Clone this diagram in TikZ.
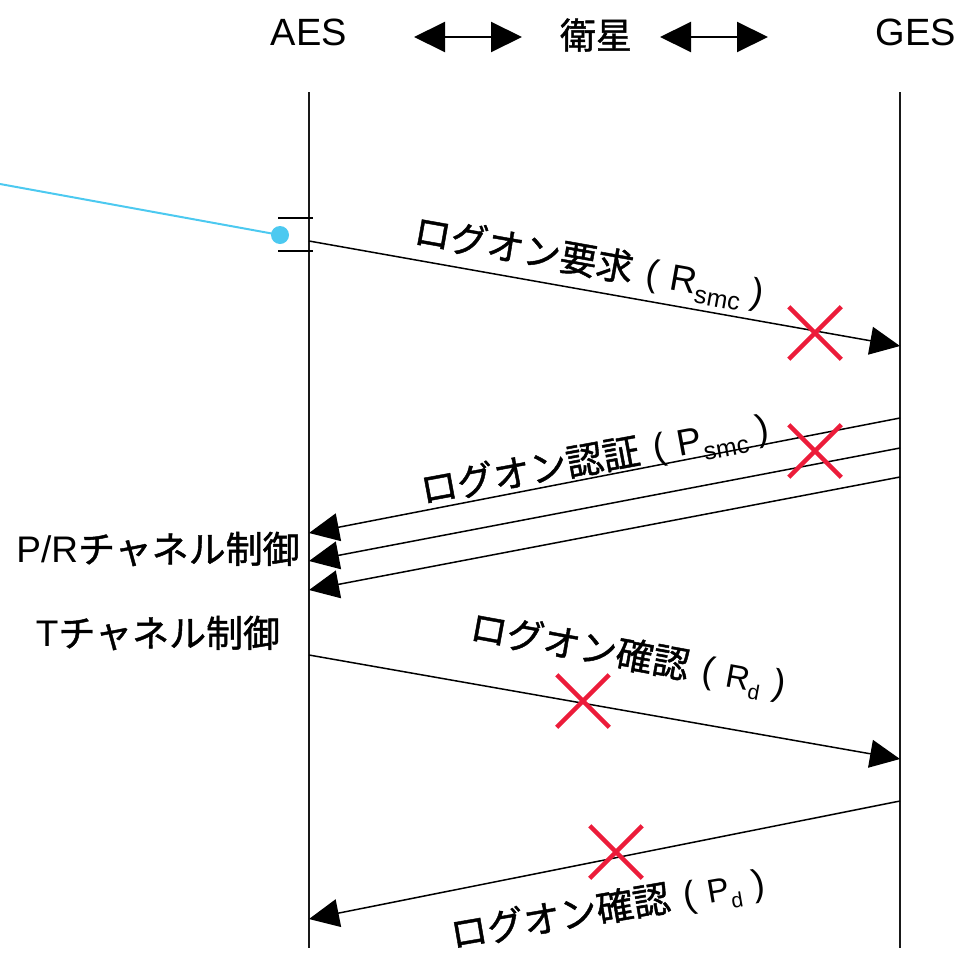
\documentclass[tikz,border=0pt]{standalone}
\usepackage{fontspec}
\setmainfont{Liberation Sans}
\newfontfamily\jpfont[FakeBold=1.2]{Noto Sans CJK JP}
\usetikzlibrary{arrows.meta,shapes.misc}
\definecolor{xred}{HTML}{EC1C3A}
\definecolor{cyanline}{HTML}{4CC9F0}
\newcommand\J[1]{{\jpfont #1}}
\newcommand\Sub[2]{\raisebox{-0.25em}{\fontsize{#1}{#1}\selectfont #2}}
\begin{document}
\begin{tikzpicture}[x=1pt,y=-1pt]
\tikzset{
  lifeline/.style={line width=2.4pt, black!90},
  msg/.style={line width=1.5pt, -{Triangle[length=30pt,width=28pt]}},
  hdrarrow/.style={line width=2pt, {Triangle[length=31pt,width=30pt]}-{Triangle[length=31pt,width=30pt]}},
  hdrtxt/.style={font=\fontsize{38}{42}\selectfont, inner sep=0pt},
  lbl/.style={font=\fontsize{37}{40}\selectfont, inner sep=0pt},
  sidetxt/.style={font=\fontsize{37}{40}\selectfont, inner sep=0pt},
  lost/.style={draw=xred, cross out, line width=4.5pt, minimum size=48pt, inner sep=0pt},
  tick/.style={line width=2pt},
}
\useasboundingbox (0,0) rectangle (960,953);

% header
\node[hdrtxt] (aes) at (309,32) {AES};
\node[hdrtxt, font=\fontsize{36}{40}\selectfont] (sat) at (596,35) {\J{衛星}};
\node[hdrtxt] (ges) at (916,32) {GES};
\coordinate (h1a) at (414,37); \coordinate (h1b) at (522,37);
\coordinate (h2a) at (660,37); \coordinate (h2b) at (768,37);
\draw[hdrarrow] (h1a) -- (h1b);
\draw[hdrarrow] (h2a) -- (h2b);

% lifelines
\coordinate (aTop) at (309,92); \coordinate (aBot) at (309,948);
\coordinate (gTop) at (900,92); \coordinate (gBot) at (900,948);
\draw[lifeline] (aTop) -- (aBot);
\draw[lifeline] (gTop) -- (gBot);

% blue pointer and brackets
\coordinate (bStart) at (0,184);
\node[circle, fill=cyanline, minimum size=18pt, inner sep=0pt] (dot) at (280,235) {};
\draw[cyanline, line width=2pt] (bStart) -- (dot.center);
\coordinate (t1a) at (278,218); \coordinate (t1b) at (313,218);
\coordinate (t2a) at (278,251); \coordinate (t2b) at (313,251);
\draw[tick] (t1a) -- (t1b);
\draw[tick] (t2a) -- (t2b);

% messages
\coordinate (m1s) at (309,241); \coordinate (m1e) at (900,346);
\coordinate (m2as) at (900,418); \coordinate (m2ae) at (309,533);
\coordinate (m2bs) at (900,448); \coordinate (m2be) at (309,561);
\coordinate (m2cs) at (900,477); \coordinate (m2ce) at (309,590);
\coordinate (m3s) at (309,655); \coordinate (m3e) at (900,759);
\coordinate (m4s) at (900,801); \coordinate (m4e) at (309,919);
\draw[msg] (m1s) -- (m1e);
\draw[msg] (m2as) -- (m2ae);
\draw[msg] (m2bs) -- (m2be);
\draw[msg] (m2cs) -- (m2ce);
\draw[msg] (m3s) -- (m3e);
\draw[msg] (m4s) -- (m4e);

% labels
\node[lbl, rotate=-10.1] (l1) at (589,264) {\J{ログオン要求}\hspace{14pt}(\hspace{12pt}R\Sub{25}{smc}\hspace{10pt})};
\node[lbl, rotate=10.5] (l2) at (595,461) {\J{ログオン認証}\hspace{14pt}(\hspace{12pt}P\Sub{25}{smc}\hspace{10pt})};
\node[lbl, rotate=-10.3] (l3) at (628,657) {\J{ログオン確認}\hspace{14pt}(\hspace{12pt}{\fontsize{33}{36}\selectfont R\Sub{21}{d}}\hspace{12pt})};
\node[lbl, rotate=9.8] (l4) at (608,910) {\J{ログオン確認}\hspace{14pt}(\hspace{12pt}{\fontsize{33}{36}\selectfont P\Sub{21}{d}}\hspace{12pt})};

% side labels
\node[sidetxt] (pr) at (158,549) {P/R\J{チャネル制御}};
\node[sidetxt] (tch) at (158,633) {T\J{チャネル制御}};

% lost markers
\node[lost] (x1) at (815,333) {};
\node[lost] (x2) at (815,451) {};
\node[lost] (x3) at (583,701) {};
\node[lost] (x4) at (616,852) {};
\end{tikzpicture}
\end{document}
